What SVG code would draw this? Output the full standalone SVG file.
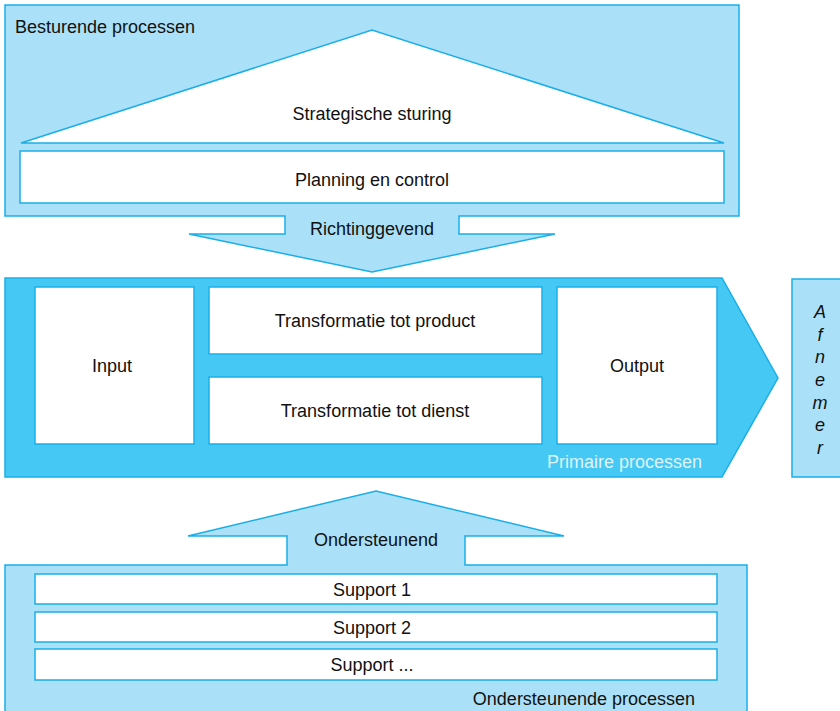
<svg xmlns="http://www.w3.org/2000/svg" width="840" height="711" viewBox="0 0 840 711">
<style>
.light{fill:#aae1f9;stroke:#1aaee9;stroke-width:1.5}
.mid{fill:#45c8f3;stroke:#1aaee9;stroke-width:1.5}
.box{fill:#ffffff;stroke:#1aaee9;stroke-width:1.5}
text{font-family:"Liberation Sans",Arial,sans-serif;font-size:18px;fill:#111}
.c{text-anchor:middle}
.pl{fill:#dff4fd}
.it{font-style:italic;text-anchor:middle}
</style>
<rect width="840" height="711" fill="#ffffff"/>
<g id="besturende-processen">
<path class="light" d="M5,5 H739 V216 H459 V234 H555 L372,272 L189,234 H285 V216 H5 Z"/>
<text x="15" y="33">Besturende processen</text>
</g>
<g id="strategische-sturing">
<polygon class="box" points="21,143 372,30 724,143"/>
<text class="c" x="372" y="120">Strategische sturing</text>
</g>
<g id="planning-en-control">
<rect class="box" x="20" y="151" width="704" height="52"/>
<text class="c" x="372" y="186">Planning en control</text>
</g>
<g id="richtinggevend">
<text class="c" x="372" y="235">Richtinggevend</text>
</g>
<g id="primaire-processen">
<polygon class="mid" points="5,278 722,278 778,378 722,477 5,477"/>
<text class="pl" x="702" y="468" text-anchor="end">Primaire processen</text>
</g>
<g id="input">
<rect class="box" x="35" y="287" width="159" height="157"/>
<text class="c" x="112" y="372">Input</text>
</g>
<g id="transformatie-product">
<rect class="box" x="209" y="287" width="333" height="67"/>
<text class="c" x="375" y="327">Transformatie tot product</text>
</g>
<g id="transformatie-dienst">
<rect class="box" x="209" y="377" width="333" height="67"/>
<text class="c" x="375" y="417">Transformatie tot dienst</text>
</g>
<g id="output">
<rect class="box" x="557" y="287" width="160" height="157"/>
<text class="c" x="637" y="372">Output</text>
</g>
<g id="afnemer">
<rect class="light" x="792" y="279" width="70" height="198"/>
<text class="it" x="820" y="318">A</text>
<text class="it" x="820" y="341">f</text>
<text class="it" x="820" y="363">n</text>
<text class="it" x="820" y="386">e</text>
<text class="it" x="820" y="409">m</text>
<text class="it" x="820" y="431">e</text>
<text class="it" x="820" y="454">r</text>
</g>
<g id="ondersteunende-processen">
<path class="light" d="M5,720 V565 H287 V536 H188 L376,491 L564,536 H465 V565 H747 V720 Z"/>
<text x="695" y="705" text-anchor="end">Ondersteunende processen</text>
</g>
<g id="ondersteunend">
<text class="c" x="376" y="546">Ondersteunend</text>
</g>
<g id="support-1">
<rect class="box" x="35" y="574" width="682" height="30"/>
<text class="c" x="372" y="596">Support 1</text>
</g>
<g id="support-2">
<rect class="box" x="35" y="612" width="682" height="30"/>
<text class="c" x="372" y="634">Support 2</text>
</g>
<g id="support-3">
<rect class="box" x="35" y="649" width="682" height="31"/>
<text class="c" x="372" y="671">Support ...</text>
</g>
<g id="connectors"></g>
</svg>
